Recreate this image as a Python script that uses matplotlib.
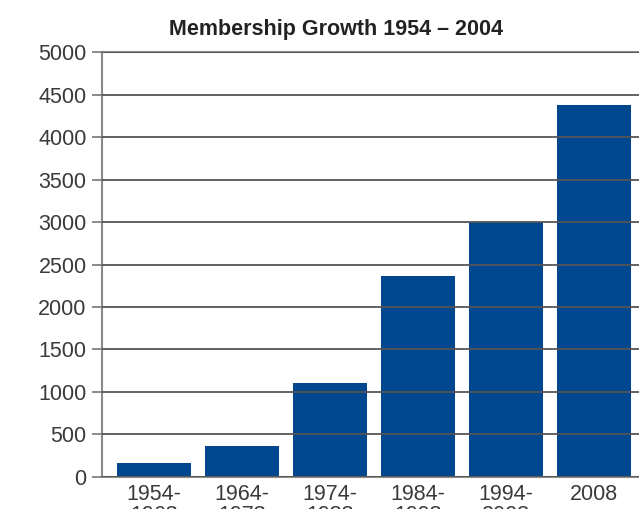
import numpy as np
import matplotlib
matplotlib.use("Agg")
import matplotlib.pyplot as plt

plt.rcParams['font.family'] = ['Liberation Sans', 'DejaVu Sans']

# data
periods = ["1954-\n1963", "1964-\n1973", "1974-\n1983", "1984-\n1993", "1994-\n2003", "2008"]
members = [170, 360, 1100, 2370, 3000, 4380]
yticks = list(range(0, 5001, 500))

bar_color = "#00478f"
grid_color = "#555555"

fig = plt.figure(figsize=(6.39, 5.09), dpi=100)
ax = fig.add_axes([0.1596, 0.0629, 0.8404, 0.8349])

x = np.arange(len(periods))
ax.bar(x, members, width=0.84, color=bar_color, zorder=2)

ax.set_xlim(-0.59, 5.51)
ax.set_ylim(0, 5000)
ax.set_yticks(yticks)
ax.set_yticklabels([str(v) for v in yticks], fontsize=15.5, color="#3a3a3a")
ax.set_xticks(x)
ax.set_xticklabels(periods, fontsize=15.5, color="#3a3a3a", linespacing=1.0,
                   va="top")

ax.yaxis.grid(True, color=grid_color, linewidth=1.3, zorder=3)
ax.set_axisbelow(False)
ax.tick_params(axis="y", length=7, width=1.2, color="#777777", pad=4)
ax.tick_params(axis="x", length=0, pad=5)

for side in ("left", "bottom", "top"):
    ax.spines[side].set_color("#8a8a8a")
    ax.spines[side].set_linewidth(1.5)
ax.spines["right"].set_visible(False)

fig.text(336 / 639, 1 - 29 / 509, "Membership Growth 1954 \u2013 2004",
         ha="center", va="center", fontsize=15.5, fontweight="bold", color="#222222")

fig.savefig("out.png", dpi=100)
